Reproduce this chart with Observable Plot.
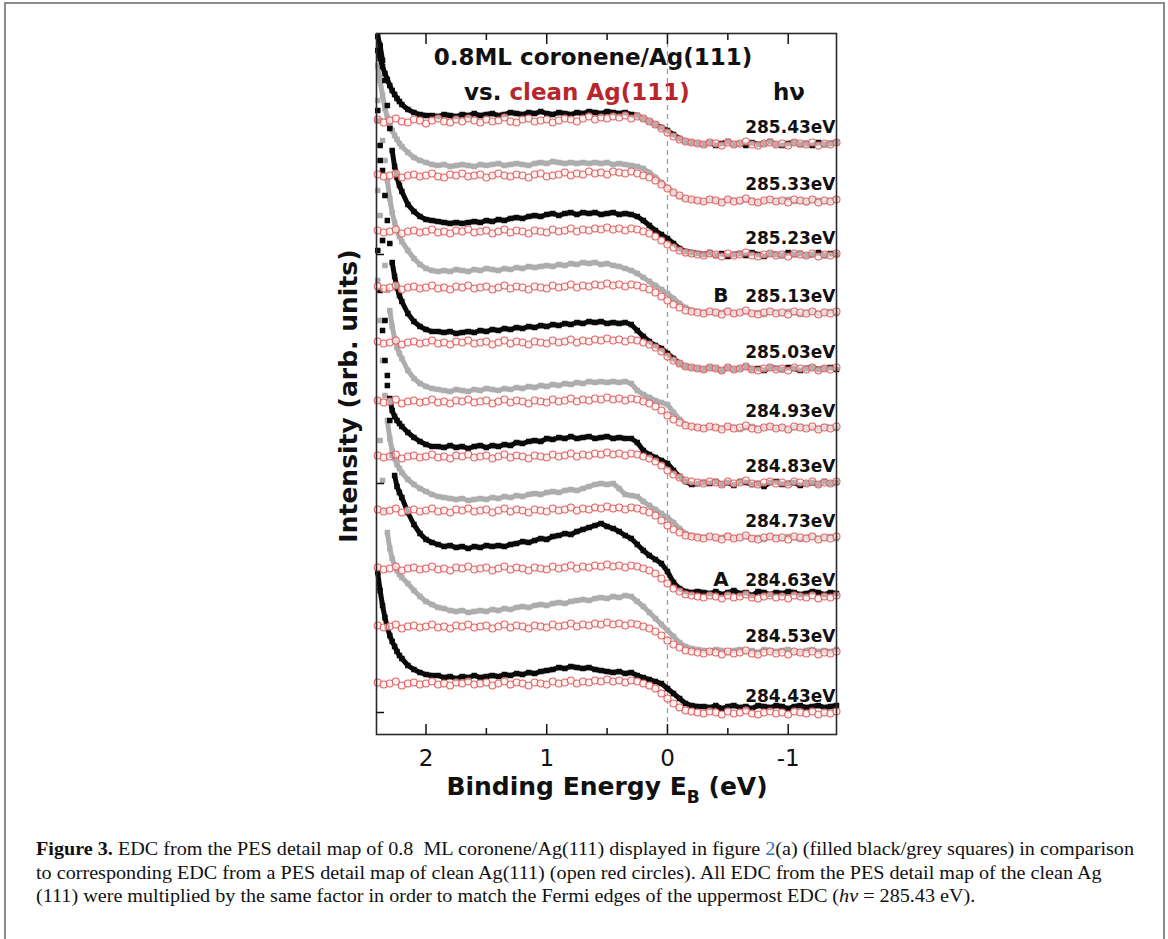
<!DOCTYPE html>
<html><head><meta charset="utf-8">
<script src="https://cdn.jsdelivr.net/npm/d3@7"></script>
<script src="https://cdn.jsdelivr.net/npm/@observablehq/plot@0.6"></script>
<style>
body{margin:0;background:#fff;width:1168px;height:939px;overflow:hidden;position:relative}
#border{position:absolute;left:4px;top:2px;width:1157px;height:1000px;border:2px solid #8c8c8c}
#chart{position:absolute;left:0;top:0}
#caption{position:absolute;left:36px;top:838px;font-family:"Liberation Serif","Times New Roman",serif;font-size:18px;line-height:23.5px;color:#111;white-space:nowrap}
#caption .row{height:23.5px}
#caption .ln{display:inline-block;transform-origin:0 0}
</style></head><body>
<div id="border"></div>
<div id="chart"></div>
<div id="caption">
<div class="row"><span class="ln"><b>Figure 3.</b> EDC from the PES detail map of 0.8&nbsp; ML coronene/Ag(111) displayed in figure <span style="color:#2e78b7">2</span>(a) (filled black/grey squares) in comparison</span></div>
<div class="row"><span class="ln">to corresponding EDC from a PES detail map of clean Ag(111) (open red circles). All EDC from the PES detail map of the clean Ag</span></div>
<div class="row"><span class="ln">(111) were multiplied by the same factor in order to match the Fermi edges of the uppermost EDC (<i>hν</i>&nbsp;=&nbsp;285.43&nbsp;eV).</span></div>
</div>
<script>
// Binding energy grids (eV)
const coroneneEnergy = [2.40,2.38,2.36,2.34,2.32,2.30,2.28,2.26,2.24,2.22,2.20,2.15,2.10,2.05,2.00,1.95,1.90,1.85,1.80,1.75,1.70,1.65,1.60,1.55,1.50,1.45,1.40,1.35,1.30,1.25,1.20,1.15,1.10,1.05,1.00,0.95,0.90,0.85,0.80,0.75,0.70,0.65,0.60,0.55,0.50,0.45,0.40,0.35,0.30,0.25,0.20,0.15,0.10,0.05,0.00,-0.05,-0.10,-0.15,-0.20,-0.25,-0.30,-0.35,-0.40,-0.45,-0.50,-0.55,-0.60,-0.65,-0.70,-0.75,-0.80,-0.85,-0.90,-0.95,-1.00,-1.05,-1.10,-1.15,-1.20,-1.25,-1.30,-1.35,-1.40];
const cleanEnergy = [2.40,2.35,2.30,2.25,2.20,2.15,2.10,2.05,2.00,1.95,1.90,1.85,1.80,1.75,1.70,1.65,1.60,1.55,1.50,1.45,1.40,1.35,1.30,1.25,1.20,1.15,1.10,1.05,1.00,0.95,0.90,0.85,0.80,0.75,0.70,0.65,0.60,0.55,0.50,0.45,0.40,0.35,0.30,0.25,0.20,0.15,0.10,0.05,0.00,-0.05,-0.10,-0.15,-0.20,-0.25,-0.30,-0.35,-0.40,-0.45,-0.50,-0.55,-0.60,-0.65,-0.70,-0.75,-0.80,-0.85,-0.90,-0.95,-1.00,-1.05,-1.10,-1.15,-1.20,-1.25,-1.30,-1.35,-1.40];

const hvLabels = ["285.43eV","285.33eV","285.23eV","285.13eV","285.03eV","284.93eV","284.83eV","284.73eV","284.63eV","284.53eV","284.43eV"];
const featureLabels = [{text:"B", curve:3},{text:"A", curve:8}];
const xMajor = [2,1,0,-1];
const xMinor = [1.5,0.5,-0.5];
const yTicks = [2.2,25.1,48.0];

// coronene/Ag(111) EDCs (filled squares), offset intensities
const cor28543 = [68.4,67.6,66.8,66.1,65.5,64.9,64.4,64.0,63.6,63.3,63.0, 62.5,62.2,62.0,61.9,61.9, 61.8,62.0,61.9,61.8,62.0,61.9,62.1,61.9,62.0,62.1, 61.9,62.0,62.2,62.1,62.0,62.2,62.1,62.3,62.1,62.0, 62.2,62.1,62.0,62.2,62.1,62.3,62.2,62.1,62.3,62.2, 62.1,62.2,62.0,61.9, 61.6,61.3,61.0,60.7,60.4,60.0,59.6,59.3,59.2,59.1, 59.0,59.2,58.9,59.1,59.3,59.0,59.1,58.9,59.2,59.0,59.1,59.3,59.0,58.9,59.1,59.2,59.0,59.1,58.9,59.2,59.0,59.1,59.2];
const cor28533 = [66.9,65.4,63.9,62.6,61.7,61.0,60.4,59.9,59.5,59.1,58.8, 58.2,57.7,57.4,57.2,57.0, 56.9,57.0,56.8,56.9,57.0,56.9,56.8,57.0,56.9,57.0, 57.1,56.9,57.0,57.1,57.0,56.9,57.1,57.2,57.1,57.3, 57.2,57.1,57.2,57.1,57.2,57.1,57.2,57.1,57.2,57.0, 57.1,57.0,56.9,56.8, 56.6,56.2,55.7,55.2,54.7,54.2,53.8,53.6,53.5,53.4, 53.3,53.5,53.4,53.3,53.5,53.4,53.3,53.5,53.4,53.2,53.4,53.5,53.3,53.4,53.5,53.3,53.4,53.2,53.5,53.4,53.3,53.4,53.5];
const cor28523 = [69.8,68.9,67.4,65.4,62.9,60.6,58.4,56.8,55.7,54.9,54.3, 53.0,52.3,51.8,51.5,51.4, 51.3,51.2,51.1,51.2,51.1,51.2,51.3,51.2,51.4,51.3, 51.5,51.4,51.6,51.7,51.6,51.8,51.9,51.8,52.0,52.1, 51.9,52.1,52.2,52.0,52.2,52.1,52.2,52.0,52.1,52.2, 52.0,52.1,52.0,51.8, 51.4,50.9,50.4,50.0,49.6,49.1,48.6,48.3,48.2,48.1, 48.0,48.2,47.9,48.1,47.8,48.0,48.1,47.9,48.2,48.0,47.8,48.1,48.0,47.9,48.2,48.0,48.1,47.9,48.0,48.2,47.9,48.1,48.0];
const cor28513 = [63.4,61.4,59.4,57.4,55.4,53.6,52.2,51.2,50.4,49.8,49.3, 48.4,47.6,47.0,46.6,46.4, 46.3,46.4,46.3,46.5,46.4,46.3,46.5,46.4,46.6,46.5, 46.4,46.6,46.5,46.7,46.6,46.8,46.7,46.8,46.9,46.8, 47.0,46.9,47.1,47.0,47.2,47.1,47.2,47.0,47.1,46.9, 46.8,46.6,46.4,46.1, 45.7,45.3,44.9,44.5,44.1,43.6,43.1,42.7,42.4,42.3, 42.2,42.3,42.1,42.2,42.4,42.1,42.2,42.3,42.1,42.2,42.0,42.3,42.2,42.1,42.3,42.2,42.0,42.2,42.3,42.1,42.2,42.3,42.1];
const cor28503 = [61.4,58.9,56.4,53.9,51.4,49.1,47.2,45.8,44.7,43.9,43.3, 42.1,41.3,40.8,40.5,40.3, 40.3,40.2,40.3,40.1,40.2,40.3,40.2,40.4,40.3,40.5, 40.4,40.6,40.5,40.7,40.6,40.8,40.7,40.9,40.8,41.0, 40.9,41.1,41.0,41.2,41.1,41.3,41.2,41.3,41.1,41.2, 41.1,41.2,41.0,40.4, 39.8,39.3,38.9,38.6,38.1,37.6,37.1,36.8,36.7,36.6, 36.5,36.7,36.6,36.4,36.7,36.5,36.6,36.8,36.5,36.6,36.4,36.7,36.6,36.5,36.7,36.6,36.4,36.6,36.7,36.5,36.6,36.7,36.5];
const cor28493 = [54.4,51.9,49.4,46.9,44.4,42.4,40.8,39.6,38.7,38.1,37.6, 36.4,35.6,35.1,34.8,34.6, 34.5,34.4,34.3,34.5,34.4,34.3,34.5,34.4,34.6,34.5, 34.4,34.6,34.5,34.7,34.6,34.8,34.7,34.9,34.8,35.0, 34.9,35.1,35.0,35.2,35.1,35.3,35.2,35.3,35.2,35.3, 35.2,35.3,35.1,34.4, 34.0,33.7,33.4,33.2,33.0,32.2,31.5,31.0,30.8,30.7, 30.6,30.8,30.7,30.6,30.8,30.7,30.5,30.7,30.8,30.6,30.7,30.8,30.6,30.7,30.5,30.7,30.8,30.6,30.7,30.6,30.8,30.7,30.6];
const cor28483 = [62.4,57.4,49.4,41.4,35.9,33.6,32.4,31.8,31.4,31.1,30.8, 30.2,29.7,29.3,29.0,28.8, 28.8,28.7,28.9,28.7,28.8,28.6,28.8,28.9,28.7,28.9, 28.8,29.0,28.9,29.2,29.1,29.3,29.4,29.3,29.6,29.5, 29.7,29.6,29.8,29.6,29.7,29.8,29.6,29.7,29.8,29.6, 29.7,29.6,29.6,29.2, 28.4,28.0,27.7,27.4,27.1,26.4,25.8,25.3,25.0,25.1, 25.2,25.1,25.3,25.0,25.2,24.9,25.3,25.2,25.0,25.1,24.8,25.2,25.3,25.0,25.1,25.2,24.9,25.1,25.2,25.0,25.3,25.1,25.2];
const cor28473 = [45.4,41.4,37.4,33.9,31.4,29.6,28.4,27.6,27.0,26.6,26.2, 25.5,25.0,24.6,24.3,24.0, 23.8,23.7,23.6,23.5,23.6,23.4,23.5,23.6,23.5,23.7, 23.6,23.8,23.7,23.9,23.8,24.0,24.1,24.0,24.2,24.3, 24.2,24.4,24.5,24.4,24.6,24.8,25.0,25.1,25.0,25.1, 24.6,24.0,23.9,23.8, 23.3,22.9,22.5,22.1,21.7,21.2,20.6,20.1,19.9,19.8, 19.7,19.8,19.6,19.7,19.9,19.6,19.7,19.8,19.6,19.7,19.5,19.8,19.7,19.6,19.8,19.7,19.5,19.7,19.8,19.6,19.7,19.8,19.6];
const cor28463 = [48.4,44.4,40.4,37.4,34.9,31.4,27.9,25.9,24.8,24.2,23.7, 22.2,21.0,20.1,19.5,19.2, 19.0,18.8,18.9,18.7,18.8,18.6,18.8,18.7,18.9,18.8, 18.9,18.8,19.0,19.1,19.3,19.2,19.4,19.6,19.5,19.8, 19.9,20.1,20.0,20.3,20.5,20.7,20.9,21.1,20.8,20.6, 20.3,19.9,19.6,19.0, 18.4,17.9,17.5,17.1,16.3,15.2,14.6,14.3,14.2,14.3, 14.2,14.1,14.3,14.0,14.2,14.4,14.1,14.2,13.9,14.3,14.2,14.0,14.2,14.1,14.3,14.2,14.0,14.1,14.3,14.2,14.0,14.2,14.1];
const cor28453 = [33.4,29.4,25.4,22.4,20.2,18.6,17.6,16.9,16.4,16.0,15.7, 15.1,14.4,13.8,13.3,13.0, 12.7,12.6,12.4,12.3,12.4,12.2,12.3,12.4,12.3,12.5, 12.4,12.6,12.5,12.7,12.8,12.7,12.9,13.0,12.9,13.1, 13.2,13.1,13.3,13.4,13.5,13.4,13.6,13.7,13.6,13.8, 13.7,13.9,13.8,13.3, 12.8,12.2,11.6,11.0,10.4,9.8,9.2,8.8,8.6,8.5, 8.4,8.3,8.5,8.4,8.2,8.4,8.5,8.3,8.4,8.2,8.5,8.4,8.3,8.4,8.5,8.3,8.2,8.4,8.5,8.3,8.4,8.3,8.5];
const cor28443 = [16.2,14.4,12.9,11.7,10.7,9.9,9.3,8.8,8.3,7.9,7.6, 6.9,6.5,6.2,6.0,5.9, 5.9,5.7,5.8,5.6,5.8,5.7,5.9,5.7,5.8,5.9, 5.8,6.0,5.9,6.1,6.0,6.2,6.1,6.3,6.4,6.5, 6.7,6.6,6.8,6.7,6.6,6.7,6.5,6.4,6.3,6.2, 6.3,6.1,6.2,5.9, 5.7,5.5,5.3,5.1,4.6,4.1,3.6,3.1,2.9,2.8, 2.8,2.7,2.9,2.6,2.8,2.9,2.7,2.8,2.6,2.9,2.8,2.7,2.9,2.8,2.6,2.8,2.9,2.7,2.8,2.9,2.7,2.8,2.9];

// clean Ag(111) EDCs (open circles)
const ag28543 = [61.5,61.2,61.4,61.6,61.3,61.2,61.5,61.4,61.1,61.4, 61.6,61.3,61.2,61.5,61.3,61.6,61.4,61.2,61.5,61.3, 61.4,61.7,61.3,61.2,61.5,61.6,61.3,61.4,61.5,61.2, 61.4,61.6,61.5,61.3,61.6,61.8,61.5,61.7,61.6,61.8, 61.7,61.9,61.6,61.8,61.6, 61.3,61.0,60.6,60.2,59.8,59.5,59.3,59.2,59.1, 59.0,59.2,59.1,58.9,59.2,59.0,59.1,59.3,59.0,58.9,59.1,59.2,59.0,59.1,58.9,59.2,59.1,59.0,59.2,58.9,59.1,59.0,59.2];
const ag28533 = [56.0,55.8,55.9,56.1,55.7,55.9,56.0,55.8,55.9,56.1, 55.8,55.7,56.0,55.9,56.1,55.8,55.9,56.0,55.7,55.9, 56.1,55.9,55.8,56.0,55.9,55.7,56.0,56.1,55.8,55.9, 56.0,56.2,55.9,56.1,56.0,56.3,56.1,56.2,56.0,56.3, 56.2,56.1,56.3,56.1,55.9, 55.7,55.4,55.0,54.6,54.2,53.9,53.6,53.5,53.4, 53.3,53.5,53.4,53.2,53.5,53.3,53.4,53.6,53.3,53.2,53.4,53.5,53.3,53.4,53.2,53.5,53.4,53.3,53.5,53.2,53.4,53.3,53.5];
const ag28523 = [50.4,50.2,50.3,50.5,50.1,50.3,50.4,50.2,50.3,50.5, 50.2,50.3,50.1,50.4,50.3,50.5,50.2,50.3,50.4,50.1, 50.3,50.5,50.2,50.4,50.3,50.1,50.4,50.3,50.2,50.5, 50.3,50.4,50.6,50.3,50.5,50.4,50.6,50.5,50.7,50.5, 50.6,50.4,50.6,50.5,50.3, 50.1,49.8,49.4,49.0,48.7,48.4,48.2,48.1,48.0, 47.9,48.1,48.0,47.8,48.1,47.9,48.0,48.2,47.9,47.8,48.0,48.1,47.9,48.0,47.8,48.1,48.0,47.9,48.1,47.8,48.0,47.9,48.1];
const ag28513 = [44.8,44.6,44.7,44.9,44.5,44.7,44.8,44.6,44.7,44.9, 44.6,44.7,44.5,44.8,44.7,44.9,44.6,44.7,44.8,44.5, 44.7,44.9,44.6,44.8,44.7,44.5,44.8,44.7,44.6,44.9, 44.7,44.8,45.0,44.7,44.9,44.8,45.0,44.9,45.1,44.9, 45.0,44.8,45.0,44.9,44.7, 44.5,44.2,43.8,43.4,43.0,42.7,42.4,42.3,42.2, 42.1,42.3,42.2,42.0,42.3,42.1,42.2,42.4,42.1,42.0,42.2,42.3,42.1,42.2,42.0,42.3,42.2,42.1,42.3,42.0,42.2,42.1,42.3];
const ag28503 = [39.3,39.1,39.2,39.4,39.0,39.2,39.3,39.1,39.2,39.4, 39.1,39.2,39.0,39.3,39.2,39.4,39.1,39.2,39.3,39.0, 39.2,39.4,39.1,39.3,39.2,39.0,39.3,39.2,39.1,39.4, 39.2,39.3,39.5,39.2,39.4,39.3,39.5,39.4,39.6,39.4, 39.5,39.3,39.5,39.4,39.2, 39.0,38.7,38.3,37.8,37.4,37.1,36.8,36.7,36.6, 36.5,36.7,36.6,36.4,36.7,36.5,36.6,36.8,36.5,36.4,36.6,36.7,36.5,36.6,36.4,36.7,36.6,36.5,36.7,36.4,36.6,36.5,36.7];
const ag28493 = [33.4,33.2,33.3,33.5,33.1,33.3,33.4,33.2,33.3,33.5, 33.2,33.3,33.1,33.4,33.3,33.5,33.2,33.3,33.4,33.1, 33.3,33.5,33.2,33.4,33.3,33.1,33.4,33.3,33.2,33.5, 33.3,33.4,33.6,33.3,33.5,33.4,33.6,33.5,33.7,33.5, 33.6,33.4,33.6,33.5,33.3, 33.1,32.8,32.4,31.9,31.5,31.2,30.9,30.8,30.7, 30.6,30.8,30.7,30.5,30.8,30.6,30.7,30.9,30.6,30.5,30.7,30.8,30.6,30.7,30.5,30.8,30.7,30.6,30.8,30.5,30.7,30.6,30.8];
const ag28483 = [27.9,27.7,27.8,28.0,27.6,27.8,27.9,27.7,27.8,28.0, 27.7,27.8,27.6,27.9,27.8,28.0,27.7,27.8,27.9,27.6, 27.8,28.0,27.7,27.9,27.8,27.6,27.9,27.8,27.7,28.0, 27.8,27.9,28.1,27.8,28.0,27.9,28.1,28.0,28.2,28.0, 28.1,27.9,28.1,28.0,27.8, 27.6,27.3,26.9,26.4,26.0,25.7,25.4,25.3,25.2, 25.1,25.3,25.2,25.0,25.3,25.1,25.2,25.4,25.1,25.0,25.2,25.3,25.1,25.2,25.0,25.3,25.2,25.1,25.3,25.0,25.2,25.1,25.3];
const ag28473 = [22.5,22.3,22.4,22.6,22.2,22.4,22.5,22.3,22.4,22.6, 22.3,22.4,22.2,22.5,22.4,22.6,22.3,22.4,22.5,22.2, 22.4,22.6,22.3,22.5,22.4,22.2,22.5,22.4,22.3,22.6, 22.4,22.5,22.7,22.4,22.6,22.5,22.7,22.6,22.8,22.6, 22.7,22.5,22.7,22.6,22.4, 22.2,21.9,21.4,20.9,20.5,20.2,19.9,19.8,19.7, 19.6,19.8,19.7,19.5,19.8,19.6,19.7,19.9,19.6,19.5,19.7,19.8,19.6,19.7,19.5,19.8,19.7,19.6,19.8,19.5,19.7,19.6,19.8];
const ag28463 = [16.7,16.5,16.6,16.8,16.4,16.6,16.7,16.5,16.6,16.8, 16.5,16.6,16.4,16.7,16.6,16.8,16.5,16.6,16.7,16.4, 16.6,16.8,16.5,16.7,16.6,16.4,16.7,16.6,16.5,16.8, 16.6,16.7,16.9,16.6,16.8,16.7,16.9,16.8,17.0,16.8, 16.9,16.7,16.9,16.8,16.6, 16.4,16.1,15.6,15.1,14.6,14.3,14.0,13.9,13.8, 13.7,13.9,13.8,13.6,13.9,13.7,13.8,14.0,13.7,13.6,13.8,13.9,13.7,13.8,13.6,13.9,13.8,13.7,13.9,13.6,13.8,13.7,13.9];
const ag28453 = [10.9,10.7,10.8,11.0,10.6,10.8,10.9,10.7,10.8,11.0, 10.7,10.8,10.6,10.9,10.8,11.0,10.7,10.8,10.9,10.6, 10.8,11.0,10.7,10.9,10.8,10.6,10.9,10.8,10.7,11.0, 10.8,10.9,11.1,10.8,11.0,10.9,11.1,11.0,11.2,11.0, 11.1,10.9,11.1,11.0,10.8, 10.6,10.3,9.9,9.4,9.0,8.7,8.4,8.3,8.2, 8.1,8.3,8.2,8.0,8.3,8.1,8.2,8.4,8.1,8.0,8.2,8.3,8.1,8.2,8.0,8.3,8.2,8.1,8.3,8.0,8.2,8.1,8.3];
const ag28443 = [5.2,5.0,5.1,5.3,4.9,5.1,5.2,5.0,5.1,5.3, 5.0,5.1,4.9,5.2,5.1,5.3,5.0,5.1,5.2,4.9, 5.1,5.3,5.0,5.2,5.1,4.9,5.2,5.1,5.0,5.3, 5.1,5.2,5.4,5.1,5.3,5.2,5.4,5.3,5.5,5.3, 5.4,5.2,5.4,5.3,5.1, 4.9,4.6,4.1,3.6,3.1,2.7,2.4,2.3,2.2, 2.1,2.3,2.2,2.0,2.3,2.1,2.2,2.4,2.1,2.0,2.2,2.3,2.1,2.2,2.0,2.3,2.2,2.1,2.3,2.0,2.2,2.1,2.3];

const coroneneSeries = [cor28543,cor28533,cor28523,cor28513,cor28503,cor28493,cor28483,cor28473,cor28463,cor28453,cor28443];
const cleanSeries = [ag28543,ag28533,ag28523,ag28513,ag28503,ag28493,ag28483,ag28473,ag28463,ag28453,ag28443];

// long tables; lines are broken where the measured points jump steeply
const filledRows = [];
coroneneSeries.forEach((vals, k) => {
  let seg = 0;
  vals.forEach((v, i) => {
    if (v == null || coroneneEnergy[i] == null) return;
    if (i > 0 && Math.abs(v - vals[i - 1]) > 1.8) seg++;
    filledRows.push({E: coroneneEnergy[i], I: v, k, seg: k * 100 + seg});
  });
});
const cleanRows = [];
cleanSeries.forEach((vals, k) => vals.forEach((v, i) => { if (v != null && cleanEnergy[i] != null) cleanRows.push({E: cleanEnergy[i], I: v, k}); }));
const blackRows = filledRows.filter(d => d.k % 2 === 0);
const greyRows = filledRows.filter(d => d.k % 2 === 1);
const lastOf = a => a[a.length - 1];
const labelRows = hvLabels.map((t, k) => ({t, E: lastOf(cleanEnergy), I: lastOf(cleanSeries[k]) + 1.0}));
const featRows = featureLabels.map(f => ({t: f.text, I: lastOf(cleanSeries[f.curve]) + 1.0}));

const BLACK = "#0a0a0a", GREY = "#adadad", RED = "#e06565";
const plot = Plot.plot({
  width: 1168, height: 820,
  marginLeft: 376, marginRight: 332, marginTop: 33, marginBottom: 86,
  x: {domain: [2.41, -1.40]},
  y: {domain: [0, 70.1]},
  style: {background: "transparent", fontFamily: "DejaVu Sans", color: "#111"},
  marks: [
    Plot.ruleX([0], {stroke: "#9a9a9a", strokeDasharray: "5,4", strokeWidth: 1.2}),
    Plot.line(greyRows, {x: "E", y: "I", z: "seg", stroke: GREY, strokeWidth: 5}),
    Plot.dot(greyRows, {x: "E", y: "I", symbol: "square", r: 3.1, fill: GREY, stroke: "none"}),
    Plot.line(blackRows, {x: "E", y: "I", z: "seg", stroke: BLACK, strokeWidth: 5}),
    Plot.dot(blackRows, {x: "E", y: "I", symbol: "square", r: 3.1, fill: BLACK, stroke: "none"}),
    Plot.dot(cleanRows, {x: "E", y: "I", r: 3.5, stroke: RED, strokeWidth: 1.1, fill: "#fff0f0", fillOpacity: 0.7}),
    Plot.frame({stroke: "#2a2a2a", strokeWidth: 1.6}),
    Plot.axisX(xMajor, {anchor: "bottom", tickSize: 0, tickPadding: 15, fontSize: 23, tickFormat: d => String(d), label: null}),
    Plot.axisX(xMajor, {anchor: "bottom", tickSize: -10, tickFormat: () => "", label: null, strokeWidth: 1.5}),
    Plot.axisX(xMinor, {anchor: "bottom", tickSize: -6, tickFormat: () => "", label: null, strokeWidth: 1.5}),
    Plot.axisX(xMajor, {anchor: "top", tickSize: -10, tickFormat: () => "", label: null, strokeWidth: 1.5}),
    Plot.axisX(xMinor, {anchor: "top", tickSize: -6, tickFormat: () => "", label: null, strokeWidth: 1.5}),
    Plot.axisY(yTicks, {anchor: "left", tickSize: -8, tickFormat: () => "", label: null, strokeWidth: 1.5}),
    Plot.text(labelRows, {x: "E", y: "I", text: "t", textAnchor: "end", lineAnchor: "bottom", fontSize: 17, fontWeight: "bold", fill: "#111", dx: -1}),
    Plot.text(featRows, {x: () => -0.38, y: "I", text: "t", textAnchor: "start", lineAnchor: "bottom", fontSize: 20, fontWeight: "bold", fill: "#111"})
  ]
});
document.getElementById("chart").appendChild(plot);

const svg = d3.select(plot);
const fnt = (s) => s.attr("font-family", "DejaVu Sans").attr("font-weight", "bold").attr("fill", "#111");
svg.append("text").call(fnt).attr("x", 593).attr("y", 65).attr("text-anchor", "middle").attr("font-size", 23).text("0.8ML coronene/Ag(111)");
const t2 = svg.append("text").call(fnt).attr("x", 464).attr("y", 100).attr("text-anchor", "start").attr("font-size", 23);
t2.append("tspan").text("vs. ");
t2.append("tspan").attr("fill", "#b8262b").text("clean Ag(111)");
svg.append("text").call(fnt).attr("x", 773).attr("y", 100).attr("text-anchor", "start").attr("font-size", 23).text("hν");
const xl = svg.append("text").call(fnt).attr("x", 607).attr("y", 795).attr("text-anchor", "middle").attr("font-size", 25);
xl.append("tspan").text("Binding Energy E");
xl.append("tspan").attr("font-size", 17).attr("dy", 8).text("B");
xl.append("tspan").attr("dy", -8).text(" (eV)");
svg.append("text").call(fnt).attr("transform", "translate(357,396) rotate(-90)").attr("text-anchor", "middle").attr("font-size", 25).text("Intensity (arb. units)");

// caption line scaling to match the condensed typeface width
const lines = document.querySelectorAll("#caption .ln");
const w1 = lines[0].getBoundingClientRect().width;
const sc = 1098 / w1;
lines.forEach(l => l.style.transform = `scaleX(${sc})`);
</script>
</body></html>
